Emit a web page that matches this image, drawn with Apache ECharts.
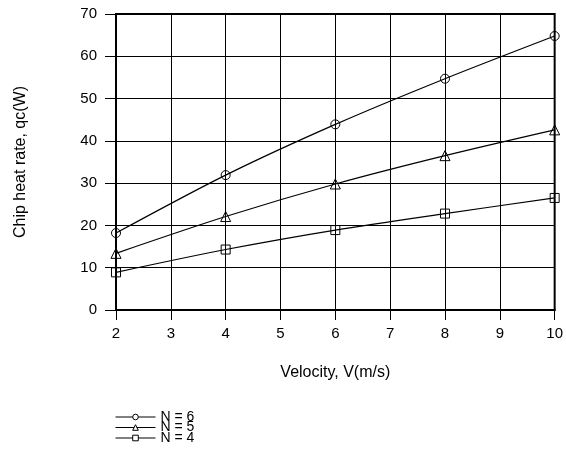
<!DOCTYPE html>
<html>
<head>
<meta charset="utf-8">
<script src="https://cdn.jsdelivr.net/npm/echarts@6/dist/echarts.min.js"></script>
<style>html,body{margin:0;padding:0;background:#fff}#c{width:566px;height:459px}</style>
</head>
<body>
<div id="c"></div>
<script>
var velocity = [2, 4, 6, 8, 10];
var n6 = [18.2, 31.9, 43.9, 54.7, 64.8];
var n5 = [13.4, 22.1, 29.8, 36.5, 42.6];
var n4 = [8.9, 14.3, 18.9, 22.8, 26.5];
var seriesNames = ['N = 6', 'N = 5', 'N = 4'];
var seriesSymbols = ['circle', 'triangle', 'rect'];
var seriesValues = [n6, n5, n4];
var xTitle = 'Velocity, V(m/s)';
var yTitle = 'Chip heat rate, qc(W)';

var font = 'Liberation Sans, Arial, sans-serif';
var chart = echarts.init(document.getElementById('c'), null, {renderer: 'canvas'});

var series = seriesValues.map(function (vals, i) {
  return {
    name: seriesNames[i],
    type: 'line',
    smooth: 0.3,
    symbol: seriesSymbols[i],
    symbolSize: seriesSymbols[i] === 'triangle' ? 10 : 9,
    data: velocity.map(function (v, k) { return [v, vals[k]]; }),
    lineStyle: {color: '#000', width: 1.2},
    itemStyle: {color: 'rgba(0,0,0,0)', borderColor: '#000', borderWidth: 1},
    emphasis: {disabled: true},
    animation: false,
    z: 3
  };
});

var legends = seriesNames.map(function (nm, i) {
  return {
    data: [nm],
    left: 115,
    top: 410 + i * 10.5,
    padding: 0,
    itemWidth: 40,
    itemHeight: 7,
    itemGap: 0,
    itemStyle: {color: '#fff', borderColor: '#000', borderWidth: 1},
    lineStyle: {color: '#000', width: 1},
    textStyle: {fontFamily: font, fontSize: 14, color: '#000', lineHeight: 14},
    selectedMode: false
  };
});

chart.setOption({
  backgroundColor: '#fff',
  animation: false,
  grid: {left: 116, right: 9, top: 14, bottom: 149, show: true, borderColor: '#000', borderWidth: 2, backgroundColor: 'rgba(0,0,0,0)'},
  legend: legends,
  xAxis: {
    type: 'value', min: 2, max: 10, interval: 1,
    name: xTitle, nameLocation: 'middle', nameGap: 55,
    nameTextStyle: {fontFamily: font, fontSize: 16, color: '#000'},
    axisLine: {show: true, lineStyle: {color: '#000', width: 2}},
    axisTick: {show: true, length: 10, lineStyle: {color: '#000'}},
    axisLabel: {fontFamily: font, fontSize: 15, color: '#000', margin: 16},
    splitLine: {show: true, lineStyle: {color: '#000', width: 1}}
  },
  yAxis: {
    type: 'value', min: 0, max: 70, interval: 10,
    name: yTitle, nameLocation: 'middle', nameGap: 87,
    nameTextStyle: {fontFamily: font, fontSize: 16, color: '#000'},
    axisLine: {show: true, lineStyle: {color: '#000', width: 2}},
    axisTick: {show: true, length: 11, lineStyle: {color: '#000'}},
    axisLabel: {fontFamily: font, fontSize: 15, color: '#000', margin: 19},
    splitLine: {show: true, lineStyle: {color: '#000', width: 1}}
  },
  series: series
});
</script>
</body>
</html>
